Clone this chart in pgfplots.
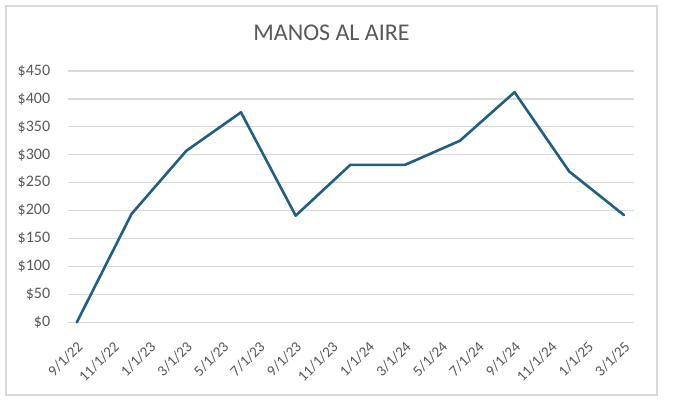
\documentclass[border=0pt]{standalone}
\usepackage{fontspec}
\setmainfont{Carlito}
\usepackage{pgfplots}
\pgfplotsset{compat=1.18}
\definecolor{linec}{HTML}{215F80}
\definecolor{gridc}{HTML}{D9D9D9}
\definecolor{textc}{HTML}{595959}
\definecolor{borderc}{HTML}{D9D9D9}
\begin{document}
\begin{tikzpicture}[x=1pt,y=1pt]
\useasboundingbox (0,0) rectangle (675,410);
\fill[white] (0,0) rectangle (675,410);
\draw[borderc, line width=1.5pt] (6,15) rectangle (657,404);
\node[text=textc, font=\fontsize{24}{28}\selectfont] at (331.5,377) {MANOS AL AIRE};
\begin{axis}[
  at={(67.7pt,87.7pt)},
  scale only axis, width=566.3pt, height=251.3pt,
  anchor=south west,
  xmin=-0.5, xmax=30.55, ymin=0, ymax=450,
  axis line style={draw=none},
  tick style={draw=none},
  ymajorgrids, grid style={gridc, line width=1.3pt},
  ytick={0,50,...,450},
  yticklabel style={text=textc, font=\fontsize{16}{18}\selectfont, anchor=east, xshift=-14pt},
  yticklabels={\$0,\$50,\$100,\$150,\$200,\$250,\$300,\$350,\$400,\$450},
  xtick={0,2,...,30},
  xticklabels={9/1/22,11/1/22,1/1/23,3/1/23,5/1/23,7/1/23,9/1/23,11/1/23,1/1/24,3/1/24,5/1/24,7/1/24,9/1/24,11/1/24,1/1/25,3/1/25},
  xticklabel style={text=textc, font=\fontsize{15}{17}\selectfont, rotate=45, anchor=north east, inner sep=1pt, xshift=-12pt, yshift=-11pt},
  clip=false,
]
\addplot[linec, line width=2.6pt, line join=round, line cap=round] coordinates {
(0,0) (3,194) (6,307) (9,376) (12,191) (15,282) (18,282) (21,325) (24,412) (27,270) (30,192)
};
\end{axis}
\end{tikzpicture}
\end{document}
